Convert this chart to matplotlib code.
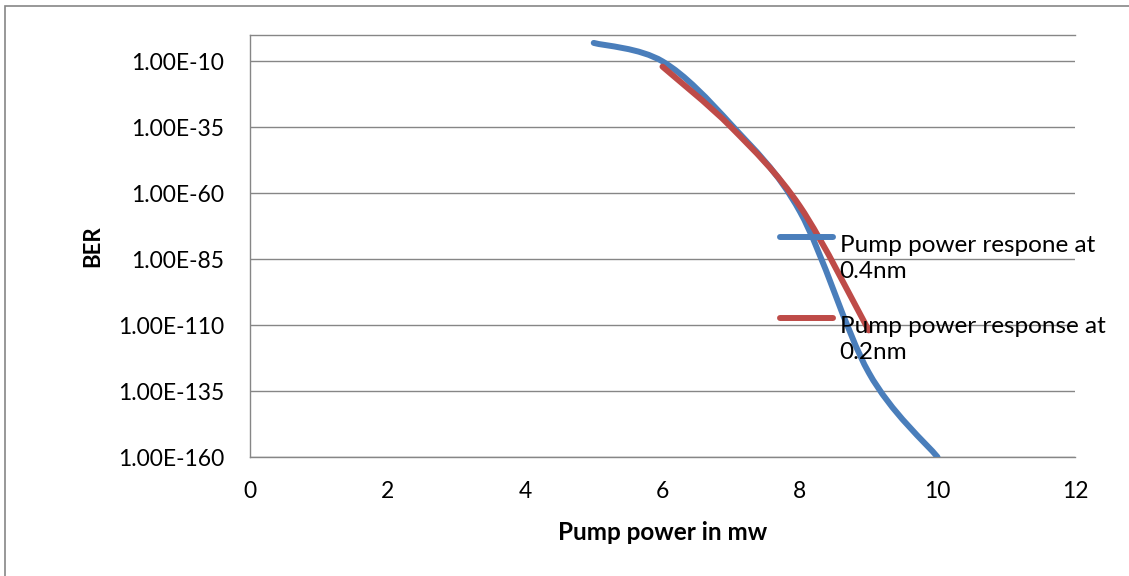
import numpy as np
import matplotlib
matplotlib.use("Agg")
import matplotlib.pyplot as plt
from matplotlib.path import Path
from matplotlib.patches import PathPatch, Rectangle
from matplotlib.lines import Line2D
from matplotlib.legend_handler import HandlerLine2D

plt.rcParams['font.family'] = ['Lato', 'DejaVu Sans']

# ---- data (log10 of BER) ----
x_04nm = [5, 6, 7, 8, 9, 10]
logber_04nm = [-3, -10, -34, -67, -128, -160]
x_02nm = [6, 7, 8, 9]
logber_02nm = [-12, -35, -65, -112]
series_labels = ["Pump power respone at\n0.4nm", "Pump power response at\n0.2nm"]
ytick_vals = [-160, -135, -110, -85, -60, -35, -10]
ytick_labels = ["1.00E%d" % v for v in ytick_vals]
xtick_vals = [0, 2, 4, 6, 8, 10, 12]

BLUE = "#4A7EBB"
RED = "#BE4B48"
GRID = "#868686"
FS = 17.5
TFS = 16.5


def smooth_path(x, y):
    pts = np.column_stack([np.asarray(x, float), np.asarray(y, float)])
    n = len(pts)
    verts = [pts[0]]
    codes = [Path.MOVETO]
    for i in range(n - 1):
        p0 = pts[i - 1] if i > 0 else pts[i]
        p1 = pts[i]
        p2 = pts[i + 1]
        p3 = pts[i + 2] if i + 2 < n else pts[i + 1]
        c1 = p1 + (p2 - p0) / 6.0
        c2 = p2 - (p3 - p1) / 6.0
        verts += [c1, c2, p2]
        codes += [Path.CURVE4] * 3
    return Path(verts, codes)


W, H = 1129, 576
fig = plt.figure(figsize=(W / 100, H / 100), dpi=100)
ax = fig.add_axes([250 / W, (H - 457) / H, (1075 - 250) / W, (457 - 35) / H])

ax.set_xlim(0, 12)
ax.set_ylim(-160, 0)

for xs, ys, col in [(x_04nm, logber_04nm, BLUE), (x_02nm, logber_02nm, RED)]:
    patch = PathPatch(smooth_path(xs, ys), facecolor='none', edgecolor=col,
                      lw=4.3, capstyle='round', joinstyle='round', zorder=3)
    ax.add_patch(patch)

ax.set_yticks(ytick_vals)
ax.set_yticklabels(ytick_labels)
ax.set_xticks(xtick_vals)
ax.tick_params(axis='both', length=0, labelsize=TFS, colors='black')
ax.tick_params(axis='y', pad=18.5)
ax.tick_params(axis='x', pad=17)
ax.yaxis.grid(True, color=GRID, lw=1.0)
ax.set_axisbelow(True)
for s in ['left', 'bottom', 'top']:
    ax.spines[s].set_color(GRID)
    ax.spines[s].set_linewidth(1.0)
ax.spines['right'].set_visible(False)

ax.set_ylabel("BER", fontsize=16, fontweight='bold', labelpad=11)
ax.set_xlabel("Pump power in mw", fontsize=FS, fontweight='bold', labelpad=14)


class TopHandler(HandlerLine2D):
    def create_artists(self, legend, orig_handle, xdescent, ydescent, width,
                       height, fontsize, trans):
        arts = super().create_artists(legend, orig_handle, xdescent, ydescent,
                                      width, height, fontsize, trans)
        for a in arts:
            if isinstance(a, Line2D):
                a.set_ydata(np.asarray(a.get_ydata()) + fontsize * 0.88)
        return arts


handles = [Line2D([], [], color=BLUE, lw=4.3, solid_capstyle='round'),
           Line2D([], [], color=RED, lw=4.3, solid_capstyle='round')]
leg = ax.legend(handles, series_labels, loc='upper left',
                bbox_to_anchor=(780 / W, (H - 235) / H),
                bbox_transform=fig.transFigure, frameon=False,
                fontsize=FS, handlelength=2.2, handletextpad=0.25,
                labelspacing=1.38, borderpad=0, borderaxespad=0,
                handler_map={Line2D: TopHandler()})
for t in leg.get_texts():
    t.set_linespacing(1.3)

fig.add_artist(Rectangle((5 / W, -0.5), 2.0, 0.5 + (H - 6) / H,
                         transform=fig.transFigure, fill=False,
                         edgecolor=GRID, lw=1.2))

fig.savefig("out.png", dpi=100)
